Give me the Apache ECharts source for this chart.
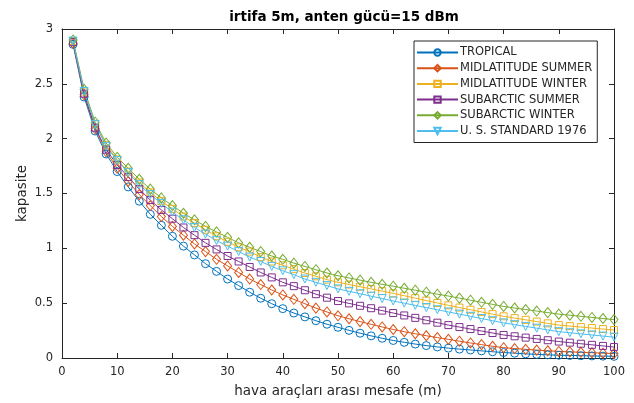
<!DOCTYPE html>
<html>
<head>
<meta charset="utf-8">
<script src="https://cdn.jsdelivr.net/npm/echarts@6/dist/echarts.min.js"></script>
<style>html,body{margin:0;padding:0;background:#fff}#c{width:634px;height:403px}</style>
</head>
<body>
<div id="c"></div>
<script>
var distances = [2,4,6,8,10,12,14,16,18,20,22,24,26,28,30,32,34,36,38,40,42,44,46,48,50,52,54,56,58,60,62,64,66,68,70,72,74,76,78,80,82,84,86,88,90,92,94,96,98,100];

var tropical = [2.86,2.38,2.07,1.86,1.70,1.56,1.43,1.31,1.21,1.11,1.02,0.94,0.86,0.79,0.72,0.66,0.60,0.545,0.495,0.45,0.41,0.375,0.34,0.308,0.28,0.252,0.226,0.202,0.18,0.16,0.143,0.127,0.113,0.101,0.09,0.081,0.073,0.065,0.057,0.05,0.044,0.038,0.033,0.029,0.025,0.023,0.021,0.019,0.017,0.015];
var midlatSummer = [2.87,2.40,2.09,1.88,1.73,1.61,1.49,1.39,1.29,1.20,1.12,1.04,0.97,0.90,0.84,0.78,0.72,0.67,0.62,0.575,0.535,0.495,0.455,0.42,0.385,0.358,0.332,0.307,0.283,0.26,0.24,0.221,0.203,0.186,0.17,0.153,0.137,0.122,0.107,0.094,0.086,0.079,0.072,0.066,0.06,0.056,0.052,0.048,0.044,0.04];
var midlatWinter = [2.89,2.43,2.13,1.94,1.81,1.70,1.60,1.51,1.43,1.36,1.29,1.23,1.17,1.11,1.06,1.01,0.97,0.92,0.88,0.845,0.81,0.775,0.745,0.715,0.69,0.67,0.65,0.63,0.61,0.59,0.568,0.546,0.524,0.502,0.48,0.46,0.44,0.42,0.40,0.38,0.364,0.348,0.332,0.316,0.30,0.291,0.282,0.273,0.264,0.255];
var subarcticSummer = [2.88,2.41,2.10,1.90,1.76,1.65,1.54,1.44,1.35,1.27,1.19,1.12,1.05,0.99,0.93,0.88,0.83,0.78,0.735,0.69,0.655,0.618,0.582,0.55,0.52,0.498,0.476,0.454,0.432,0.41,0.388,0.366,0.344,0.322,0.30,0.282,0.264,0.246,0.228,0.21,0.198,0.186,0.174,0.162,0.15,0.14,0.13,0.12,0.11,0.10];
var subarcticWinter = [2.90,2.45,2.15,1.96,1.83,1.73,1.63,1.54,1.46,1.39,1.32,1.26,1.20,1.15,1.10,1.05,1.01,0.97,0.93,0.90,0.865,0.835,0.805,0.775,0.75,0.73,0.71,0.69,0.672,0.655,0.636,0.618,0.60,0.582,0.565,0.546,0.527,0.508,0.489,0.47,0.456,0.442,0.428,0.414,0.40,0.39,0.38,0.37,0.36,0.35];
var usStandard = [2.89,2.43,2.13,1.93,1.80,1.69,1.58,1.49,1.41,1.33,1.26,1.19,1.13,1.07,1.02,0.97,0.92,0.88,0.835,0.795,0.76,0.72,0.69,0.66,0.63,0.608,0.586,0.564,0.542,0.52,0.50,0.48,0.46,0.44,0.42,0.40,0.38,0.36,0.34,0.32,0.304,0.288,0.272,0.256,0.24,0.23,0.22,0.21,0.20,0.19];

var seriesNames = ['TROPICAL','MIDLATITUDE SUMMER','MIDLATITUDE WINTER','SUBARCTIC SUMMER','SUBARCTIC WINTER','U. S. STANDARD 1976'];
var seriesValues = [tropical, midlatSummer, midlatWinter, subarcticSummer, subarcticWinter, usStandard];
var xTicks = [0,10,20,30,40,50,60,70,80,90,100];
var yTicks = [0,0.5,1,1.5,2,2.5,3];

var colors = ['#0072BD','#D95319','#EDB120','#7E2F8E','#77AC30','#4DBEEE'];
var symbols = ['circle','diamond','rect','rect','diamond','triangle'];
var sizes = [8,[8,10],7,7,[8,10],8];
var rotates = [0,0,0,0,0,180];
var font = 'DejaVu Sans, Liberation Sans, sans-serif';
var axisColor = '#262626';

function mkX(pos, showLabel) {
  return {
    type: 'value', position: pos, min: xTicks[0], max: xTicks[xTicks.length-1], interval: 10,
    axisLine: {show: true, onZero: false, lineStyle: {color: axisColor, width: 1}},
    axisTick: {show: true, inside: true, length: 5, lineStyle: {color: axisColor}},
    splitLine: {show: false},
    axisLabel: {show: showLabel, color: axisColor, fontSize: 11.5, fontFamily: font, margin: 8},
    name: showLabel ? 'hava araçları arası mesafe (m)' : '',
    nameLocation: 'middle', nameGap: 26, nameMoveOverlap: false,
    nameTextStyle: {color: axisColor, fontSize: 13.5, fontFamily: font}
  };
}
function mkY(pos, showLabel) {
  return {
    type: 'value', position: pos, min: yTicks[0], max: yTicks[yTicks.length-1], interval: 0.5,
    axisLine: {show: true, onZero: false, lineStyle: {color: axisColor, width: 1}},
    axisTick: {show: true, inside: true, length: 5, lineStyle: {color: axisColor}},
    splitLine: {show: false},
    axisLabel: {show: showLabel, color: axisColor, fontSize: 11.5, fontFamily: font, margin: 9},
    name: showLabel ? 'kapasite' : '',
    nameLocation: 'middle', nameGap: 33, nameMoveOverlap: false,
    nameTextStyle: {color: axisColor, fontSize: 13.5, fontFamily: font}
  };
}

var series = seriesNames.map(function(n, i) {
  return {
    name: n, type: 'line',
    data: distances.map(function(d, j) { return [d, seriesValues[i][j]]; }),
    symbol: symbols[i], symbolSize: sizes[i], symbolRotate: rotates[i],
    showAllSymbol: true,
    lineStyle: {color: colors[i], width: 1},
    itemStyle: {color: 'rgba(255,255,255,0)', borderColor: colors[i], borderWidth: 1},
    emphasis: {disabled: true},
    animation: false
  };
});

var chart = echarts.init(document.getElementById('c'), null, {renderer: 'canvas'});
chart.setOption({
  backgroundColor: '#fff',
  animation: false,
  title: {
    text: 'irtifa 5m, anten gücü=15 dBm', left: 339, top: 5, textAlign: 'center',
    textStyle: {fontSize: 13.5, fontWeight: 'bold', color: '#000', fontFamily: font}
  },
  grid: {left: 62, right: 20, top: 29, bottom: 41, containLabel: false},
  xAxis: [mkX('bottom', true), mkX('top', false)],
  yAxis: [mkY('left', true), mkY('right', false)],
  legend: {
    orient: 'vertical', left: 414, top: 41,
    itemWidth: 41, itemHeight: 8, itemGap: 2.7,
    padding: [5, 5, 5, 2],
    backgroundColor: '#fff', borderColor: axisColor, borderWidth: 1, borderRadius: 0,
    textStyle: {color: axisColor, fontSize: 11.5, lineHeight: 13, fontFamily: font, padding: [0,0,0,-3]},
    data: seriesNames
  },
  series: series
});
</script>
</body>
</html>
